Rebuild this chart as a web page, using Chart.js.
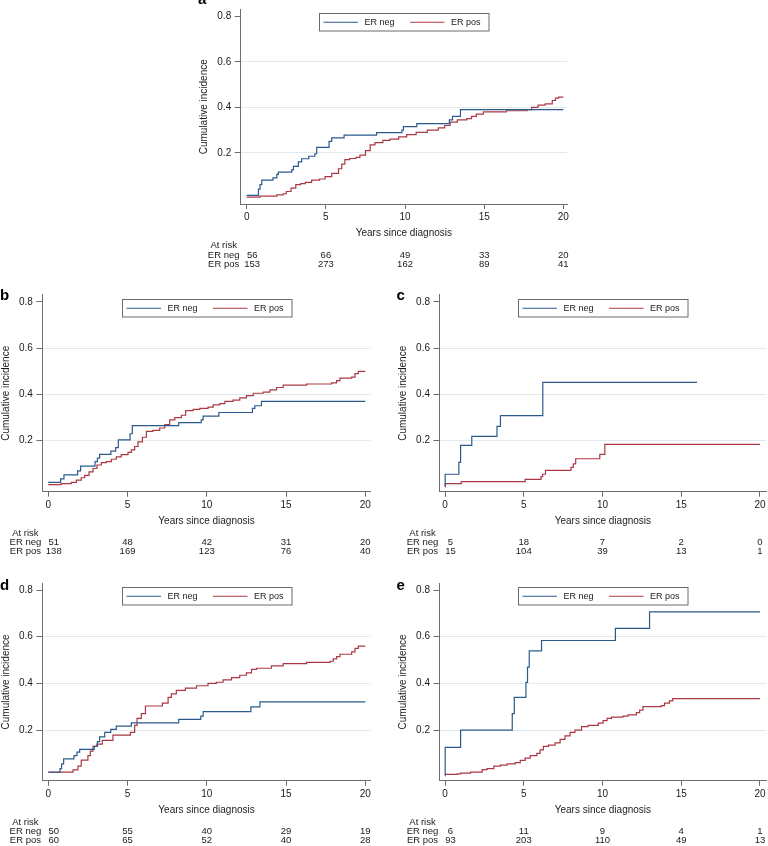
<!DOCTYPE html>
<html><head><meta charset="utf-8">
<script src="https://cdn.jsdelivr.net/npm/chart.js@4.4.0/dist/chart.umd.min.js"></script>
<style>
html,body{margin:0;padding:0;background:#fff;}
#page{position:relative;width:768px;height:846px;overflow:hidden;background:#fff;}
canvas{position:absolute;}
</style></head><body><div id="page">
<canvas id="pa"></canvas><canvas id="pb"></canvas><canvas id="pc"></canvas><canvas id="pd"></canvas><canvas id="pe"></canvas>
</div>
<script>
// ---------------- DATA ----------------
const xTicks = [0, 5, 10, 15, 20];
const yTicks = [0.2, 0.4, 0.6, 0.8];
const seriesLabels = ['ER neg', 'ER pos'];

// Panel a
const aNegT = [0,0.74,0.84,0.95,1.66,1.9,2.0,2.84,2.95,3.26,3.47,3.92,4.3,4.42,5.2,5.37,6.15,8.2,9.8,9.9,10.74,12.8,13.0,13.5,20];
const aNegV = [0.013,0.04,0.06,0.08,0.09,0.105,0.115,0.125,0.14,0.16,0.174,0.185,0.196,0.224,0.25,0.266,0.278,0.289,0.3,0.315,0.328,0.345,0.36,0.39,0.39];
const aPosT = [0,0.84,1.9,2.3,2.5,2.8,3.1,3.4,3.7,4.1,4.6,4.95,5.37,5.8,6.0,6.2,6.5,6.9,7.15,7.5,7.8,8.1,8.6,9.05,9.6,10.1,10.7,11.4,12.1,12.5,12.85,13.3,13.9,14.2,14.5,14.95,16.4,17.7,18.0,18.4,18.85,19.3,19.5,19.7,20];
const aPosV = [0.005,0.01,0.015,0.02,0.03,0.045,0.06,0.065,0.07,0.08,0.085,0.095,0.11,0.13,0.15,0.17,0.175,0.18,0.19,0.21,0.235,0.245,0.255,0.26,0.27,0.28,0.29,0.3,0.31,0.32,0.335,0.345,0.35,0.36,0.37,0.38,0.385,0.39,0.4,0.41,0.415,0.43,0.44,0.445,0.445];
const aRiskNeg = [56, 66, 49, 33, 20];
const aRiskPos = [153, 273, 162, 89, 41];

// Panel b
const bNegT = [0,0.78,0.99,1.85,2.04,2.95,3.1,3.24,3.95,4.25,4.42,5.16,5.3,8.23,9.65,9.77,10.76,12.88,13.03,13.45,20];
const bNegV = [0.02,0.035,0.052,0.07,0.09,0.11,0.125,0.141,0.155,0.17,0.204,0.23,0.265,0.278,0.29,0.306,0.322,0.34,0.351,0.37,0.37];
const bPosT = [0,0.82,1.45,1.77,2.08,2.3,2.57,2.82,3.07,3.35,3.66,3.98,4.29,4.6,5.03,5.24,5.45,5.66,5.94,6.19,6.6,7.03,7.35,7.66,7.98,8.4,8.67,9.14,9.56,10.08,10.4,10.82,11.14,11.66,12.08,12.5,12.93,13.56,13.98,14.4,14.82,16.3,17.87,18.19,18.4,19.14,19.35,19.56,20];
const bPosV = [0.01,0.015,0.02,0.03,0.04,0.05,0.065,0.08,0.095,0.105,0.11,0.12,0.13,0.14,0.15,0.16,0.175,0.195,0.215,0.24,0.245,0.255,0.27,0.29,0.3,0.31,0.33,0.335,0.34,0.345,0.355,0.36,0.37,0.375,0.385,0.395,0.405,0.41,0.42,0.43,0.44,0.445,0.45,0.46,0.47,0.475,0.49,0.5,0.5];
const bRiskNeg = [51, 48, 42, 31, 20];
const bRiskPos = [138, 169, 123, 76, 40];

// Panel c
const cNegT = [0,0.01,0.88,0.99,1.7,3.3,3.52,6.21,16];
const cNegV = [0.005,0.055,0.106,0.18,0.219,0.262,0.308,0.452,0.452];
const cPosT = [0,0.01,1.03,5.09,6.1,6.2,6.38,8.0,8.15,8.3,9.83,10.15,20];
const cPosV = [0.0,0.015,0.023,0.033,0.045,0.055,0.072,0.085,0.1,0.122,0.141,0.184,0.184];
const cRiskNeg = [5, 18, 7, 2, 0];
const cRiskPos = [15, 104, 39, 13, 1];

// Panel d
const dNegT = [0,0.74,0.84,0.97,1.62,1.81,1.98,2.9,3.1,3.24,3.56,3.94,4.29,5.24,8.23,9.62,9.77,12.78,13.35,20];
const dNegV = [0.019,0.035,0.055,0.076,0.09,0.105,0.117,0.13,0.15,0.171,0.19,0.203,0.217,0.231,0.246,0.26,0.279,0.299,0.321,0.321];
const dPosT = [0,1.56,1.87,2.08,2.5,2.65,2.82,3.07,3.41,4.08,5.18,5.45,5.6,5.87,6.13,7.2,7.56,7.77,8.08,8.65,9.35,10.08,10.6,11.03,11.56,12.08,12.5,12.82,13.14,14.08,14.82,16.3,17.77,17.98,18.19,18.4,19.14,19.35,19.56,20];
const dPosV = [0.02,0.029,0.045,0.071,0.09,0.11,0.13,0.14,0.156,0.178,0.19,0.22,0.25,0.27,0.303,0.315,0.34,0.355,0.37,0.38,0.39,0.4,0.405,0.415,0.425,0.435,0.445,0.46,0.465,0.475,0.485,0.49,0.495,0.505,0.515,0.525,0.535,0.55,0.56,0.56];
const dRiskNeg = [50, 55, 40, 29, 19];
const dRiskPos = [60, 65, 52, 40, 28];

// Panel e
const eNegT = [0,0.01,0.99,4.27,4.4,5.14,5.24,5.35,6.13,10.82,12.99,20];
const eNegV = [0.005,0.126,0.2,0.27,0.34,0.404,0.47,0.539,0.584,0.636,0.707,0.707];
const ePosT = [0,0.78,0.99,1.62,2.36,2.67,3.1,3.52,3.94,4.46,4.78,5.09,5.41,5.83,6.04,6.25,6.57,6.99,7.31,7.62,7.94,8.25,8.67,9.09,9.73,10.04,10.29,10.57,11.3,11.62,12.15,12.36,12.57,13.73,13.94,14.25,14.46,20];
const ePosV = [0.01,0.012,0.015,0.02,0.03,0.035,0.045,0.05,0.055,0.06,0.07,0.08,0.09,0.1,0.115,0.13,0.135,0.145,0.16,0.175,0.19,0.2,0.215,0.22,0.23,0.24,0.25,0.255,0.26,0.265,0.275,0.285,0.3,0.305,0.315,0.325,0.335,0.335];
const eRiskNeg = [6, 11, 9, 4, 1];
const eRiskPos = [93, 203, 110, 49, 13];

// ---------------- STYLE / LAYOUT ----------------
const FONT = '"Liberation Sans", Arial, Helvetica, sans-serif';
const BLUE = '#2a5a8c';
const RED = '#aa3843';
const AX = '#6e6e6e';
const GRID = '#dfeaee';
const TXT = '#1a1a1a';
Chart.defaults.font.family = FONT;
Chart.defaults.color = TXT;

const extras = {
  id: 'extras',
  afterDraw(chart) {
    const p = chart.options.plugins.extras;
    const ctx = chart.ctx, xs = chart.scales.x, ys = chart.scales.y, ca = chart.chartArea;
    ctx.save();
    // panel letter
    ctx.font = 'bold 15px ' + FONT;
    ctx.fillStyle = '#000'; ctx.textAlign = 'left'; ctx.textBaseline = 'alphabetic';
    ctx.fillText(p.letter, p.letterX, p.letterY);
    // legend box
    const bw = 169.5, bh = 17.5;
    const bx = Math.round((ca.left + ca.right) / 2 - bw / 2);
    const by = Math.round(ys.getPixelForValue(0.8) - 3);
    ctx.fillStyle = '#fff'; ctx.fillRect(bx, by, bw, bh);
    ctx.strokeStyle = '#6b6b6b'; ctx.lineWidth = 1;
    ctx.strokeRect(bx + 0.5, by + 0.5, bw, bh);
    const my = by + bh / 2 + 0.5;
    chart.data.datasets.forEach((ds, i) => {
      const lx = bx + (i === 0 ? 4.5 : 91);
      ctx.strokeStyle = ds.borderColor; ctx.lineWidth = 1.2;
      ctx.beginPath(); ctx.moveTo(lx, my); ctx.lineTo(lx + 34.5, my); ctx.stroke();
      ctx.fillStyle = TXT; ctx.font = '9px ' + FONT; ctx.textBaseline = 'middle'; ctx.textAlign = 'left';
      ctx.fillText(ds.label, lx + 41, my + 0.5);
    });
    // at-risk table
    ctx.font = '9.5px ' + FONT; ctx.fillStyle = TXT; ctx.textBaseline = 'middle'; ctx.textAlign = 'center';
    const lc = ca.left - 17;
    const r0 = ca.bottom + 41.5, r1 = ca.bottom + 51, r2 = ca.bottom + 60;
    ctx.fillText('At risk', lc, r0);
    ctx.fillText(seriesLabels[0], lc, r1);
    ctx.fillText(seriesLabels[1], lc, r2);
    xTicks.forEach((t, k) => {
      const px = xs.getPixelForValue(t) + (k === 0 ? 5.5 : 0);
      ctx.fillText(String(p.riskNeg[k]), px, r1);
      ctx.fillText(String(p.riskPos[k]), px, r2);
    });
    ctx.restore();
  }
};

function pts(T, V) { return T.map((t, i) => ({ x: t, y: V[i] })); }

function makePanel(id, g, negT, negV, posT, posV, riskNeg, riskPos, letter) {
  const cv = document.getElementById(id);
  cv.width = g.w; cv.height = g.h;
  cv.style.left = g.left + 'px'; cv.style.top = g.top + 'px';
  cv.style.width = g.w + 'px'; cv.style.height = g.h + 'px';
  const yW = 42, xH = 35.5;
  const padding = {
    left: g.axisX - g.left - yW,
    right: g.left + g.w - g.right,
    top: g.plotTop - g.top,
    bottom: g.h - (g.axisY - g.top) - xH
  };
  new Chart(cv, {
    type: 'line',
    data: {
      datasets: [
        { label: seriesLabels[0], data: pts(negT, negV), borderColor: BLUE, backgroundColor: BLUE, borderWidth: 1.2, pointRadius: 0, stepped: 'before', fill: false },
        { label: seriesLabels[1], data: pts(posT, posV), borderColor: RED, backgroundColor: RED, borderWidth: 1.2, pointRadius: 0, stepped: 'before', fill: false }
      ]
    },
    options: {
      responsive: false, animation: false, devicePixelRatio: 1,
      layout: { autoPadding: false, padding },
      events: [],
      plugins: {
        legend: { display: false }, tooltip: { enabled: false },
        extras: { letter, letterX: g.letterX - g.left, letterY: g.letterY - g.top, riskNeg, riskPos }
      },
      scales: {
        x: {
          type: 'linear', min: g.xmin, max: g.xmax,
          afterBuildTicks: s => { s.ticks = xTicks.map(v => ({ value: v })); },
          afterFit: s => { s.height = xH; },
          grid: { drawOnChartArea: false, drawTicks: true, tickLength: 5, tickColor: AX, tickWidth: 1 },
          border: { display: true, color: AX, width: 1 },
          ticks: { font: { size: 10 }, color: TXT, padding: 2.5, maxRotation: 0, autoSkip: false, callback: v => String(v) },
          title: { display: true, text: 'Years since diagnosis', font: { size: 10 }, color: TXT, padding: { top: 0, bottom: 0 } }
        },
        y: {
          type: 'linear', min: g.ymin, max: g.ymax,
          afterBuildTicks: s => { s.ticks = yTicks.map(v => ({ value: v })); },
          afterFit: s => { s.width = yW; },
          grid: { drawOnChartArea: true, drawTicks: true, tickLength: 6, tickColor: AX, lineWidth: 1,
                  color: c => (c.tick && c.tick.value > 0.7) ? 'rgba(0,0,0,0)' : GRID },
          border: { display: true, color: AX, width: 1 },
          ticks: { font: { size: 10 }, color: TXT, padding: 3.5, autoSkip: false, callback: v => Number(v).toFixed(1) },
          title: { display: true, text: 'Cumulative incidence', font: { size: 10 }, color: TXT, padding: { top: 0, bottom: 0 } }
        }
      }
    },
    plugins: [extras]
  });
}

const geomA = { left: 190, top: 0, w: 385, h: 280, axisX: 240.7, axisY: 204, right: 567, plotTop: 6.4, xmin: -0.38, xmax: 20.23, ymin: -0.025, ymax: 0.83, letterX: 198, letterY: 3.5 };
const geomB = { left: 0, top: 283, w: 384, h: 280, axisX: 42.4, axisY: 491.7, right: 370.7, plotTop: 294.9, xmin: -0.37, xmax: 20.34, ymin: -0.0203, ymax: 0.83, letterX: 0, letterY: 300 };
const geomC = { left: 384, top: 283, w: 384, h: 280, axisX: 439.5, axisY: 491.7, right: 768, plotTop: 294.9, xmin: -0.35, xmax: 20.4, ymin: -0.0203, ymax: 0.83, letterX: 396.5, letterY: 299.5 };
const geomD = { left: 0, top: 572, w: 384, h: 274, axisX: 42.4, axisY: 780.8, right: 370.7, plotTop: 583.1, xmin: -0.37, xmax: 20.34, ymin: -0.0176, ymax: 0.83, letterX: 0, letterY: 590 };
const geomE = { left: 384, top: 572, w: 384, h: 274, axisX: 439.5, axisY: 780.8, right: 768, plotTop: 583.1, xmin: -0.35, xmax: 20.4, ymin: -0.0176, ymax: 0.83, letterX: 396.5, letterY: 590 };

makePanel('pa', geomA, aNegT, aNegV, aPosT, aPosV, aRiskNeg, aRiskPos, 'a');
makePanel('pb', geomB, bNegT, bNegV, bPosT, bPosV, bRiskNeg, bRiskPos, 'b');
makePanel('pc', geomC, cNegT, cNegV, cPosT, cPosV, cRiskNeg, cRiskPos, 'c');
makePanel('pd', geomD, dNegT, dNegV, dPosT, dPosV, dRiskNeg, dRiskPos, 'd');
makePanel('pe', geomE, eNegT, eNegV, ePosT, ePosV, eRiskNeg, eRiskPos, 'e');
</script>
</body></html>
